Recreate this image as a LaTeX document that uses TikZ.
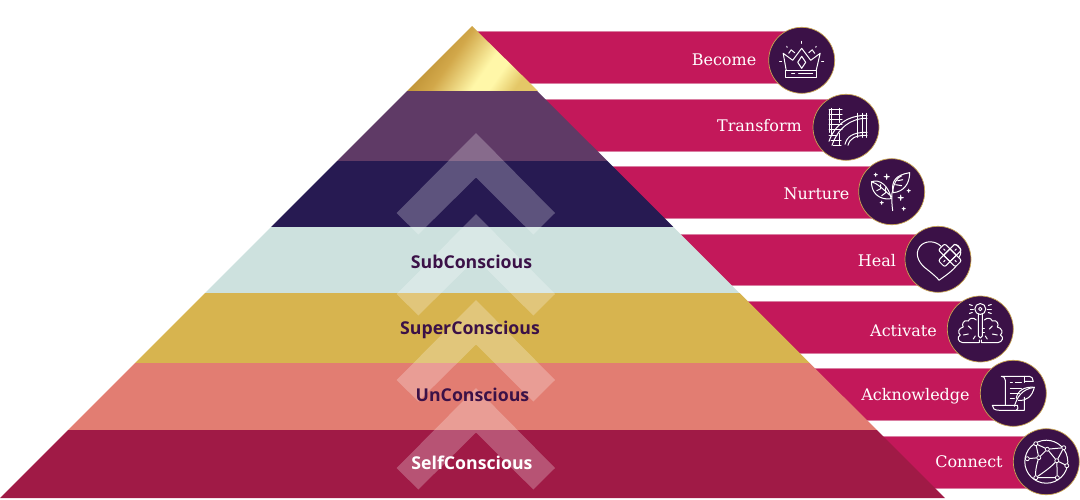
\documentclass[tikz,border=0pt]{standalone}
\usepackage{fontspec}
\setmainfont{DejaVu Serif}
\newfontfamily\boldsans[Scale=1.0]{Open Sans Bold}
\usetikzlibrary{shapes.geometric}
\definecolor{barc}{HTML}{C3185A}
\definecolor{barl}{HTML}{DA7FA2}
\definecolor{circ}{HTML}{3B1147}
\definecolor{ringc}{HTML}{C9A552}
\definecolor{lay1}{HTML}{5F3A66}
\definecolor{lay2}{HTML}{271A52}
\definecolor{lay3}{HTML}{CDE1DE}
\definecolor{lay4}{HTML}{D7B44F}
\definecolor{lay5}{HTML}{E27D72}
\definecolor{lay6}{HTML}{A01A46}
\definecolor{gold0}{HTML}{B28428}
\definecolor{gold1}{HTML}{D2A84A}
\definecolor{gold2}{HTML}{FFF7A8}
\definecolor{gold3}{HTML}{E4C767}
\pgfdeclareverticalshading{goldsh}{100bp}{color(0bp)=(gold0);color(25bp)=(gold0);color(42bp)=(gold1);color(58bp)=(gold2);color(65bp)=(gold2);color(75bp)=(gold3);color(100bp)=(gold3)}
\tikzset{
  barfill/.style={fill=barc,draw=barl,line width=.5pt},
  disc/.style={circle,fill=circ,draw=ringc,line width=.7pt,minimum size=66pt,inner sep=0pt},
  chev/.style={fill=white,fill opacity=.25},
  lab/.style={font=\fontsize{16}{18}\selectfont,text=white,anchor=base,inner sep=0pt},
  lev/.style={font=\boldsans\fontsize{17.7}{20}\selectfont,text=circ,anchor=base,inner sep=0pt},
  ic/.style={draw=white,line width=1pt,line cap=round,line join=round}
}
\begin{document}
\begin{tikzpicture}[x=1pt,y=-1pt]
\useasboundingbox (0,0) rectangle (1080,499);
% bars
\draw[barfill] (476,31.5) rectangle (800,83.5);
\draw[barfill] (530,99) rectangle (845,151);
\draw[barfill] (600,166.5) rectangle (890,218.5);
\draw[barfill] (670,234) rectangle (935,285.5);
\draw[barfill] (735,301) rectangle (980,353);
\draw[barfill] (805,368.5) rectangle (1010,420.5);
\draw[barfill] (870,436.5) rectangle (1045,488);
% pyramid
\shade[shading=goldsh,shading angle=-125] (472,26) -- (538,91) -- (407,91) -- cycle;
\fill[lay1] (407,91) -- (537.1,91) -- (607.3,161) -- (337,161) -- cycle;
\fill[lay2] (337,161) -- (607.3,161) -- (673.4,227) -- (271,227) -- cycle;
\fill[lay3] (271,227) -- (673.4,227) -- (739.5,293) -- (205,293) -- cycle;
\fill[lay4] (205,293) -- (739.5,293) -- (809.7,363) -- (135,363) -- cycle;
\fill[lay5] (135,363) -- (809.7,363) -- (876.8,430) -- (68,430) -- cycle;
\fill[lay6] (68,430) -- (876.8,430) -- (945,498) -- (0,498) -- cycle;
% chevrons
\foreach \a in {133,214,300,388}{
  \fill[chev] (476,\a) -- (555,\a+80) -- (533.3,\a+101.5) -- (476,\a+44.5) -- (418.3,\a+101.5) -- (396.7,\a+80) -- cycle;
}
% level labels
\node[lev] (sub) at (471.5,268) {SubConscious};
\node[lev] (super) at (470,334) {SuperConscious};
\node[lev] (un) at (472.5,401.5) {UnConscious};
\node[lev,text=white] (self) at (472,469) {SelfConscious};
% bar labels
\node[lab] (t1) at (724,65) {Become};
\node[lab] (t2) at (759.5,131.7) {Transform};
\node[lab] (t3) at (816.5,199) {Nurture};
\node[lab] (t4) at (877,266.7) {Heal};
\node[lab] (t5) at (903.5,336) {Activate};
\node[lab] (t6) at (915.5,400.7) {Acknowledge};
\node[lab] (t7) at (969,467.3) {Connect};
% discs
\node[disc] (c1) at (801.7,60.3) {};
\node[disc] (c2) at (846,127.3) {};
\node[disc] (c3) at (891.7,191.7) {};
\node[disc] (c4) at (938,259.3) {};
\node[disc] (c5) at (980.3,329) {};
\node[disc] (c6) at (1013.3,393.3) {};
\node[disc] (c7) at (1046.3,461.7) {};
% crown
\begin{scope}[shift={(c1.center)},ic]
\draw (-16,10) rectangle (15,17.5);
\draw (-15.5,10) -- (-18.5,-7) -- (-9,0) -- (0,-12) -- (9,0) -- (18.5,-7) -- (14.5,10);
\draw (0,-4) -- (4,2) -- (0,8) -- (-4,2) -- cycle;
\draw (-13,-7) -- (-10.5,-10.5) -- (-7,-7.5);
\draw (13,-7) -- (10.5,-10.5) -- (7,-7.5);
\draw (0,-19) -- (0,-17);
\draw (-15,-14) -- (-14.5,-13);
\draw (14.5,-14) -- (14,-13);
\draw (-22,1.5) -- (-20,1.5);
\draw (20,1.5) -- (22,1.5);
\draw (-10,13.5) -- (-7,13.5);
\draw (-3,13.5) -- (11,13.5);
\end{scope}
% rail
\begin{scope}[shift={(c2.center)},ic]
\draw (-14.5,-19) -- (-14.5,7) (-6.5,-19) -- (-6.5,-5);
\draw (-7,18) -- (-7,6);
\foreach \y in {-18,-13,-8,-3,2}{\draw (-17,\y) -- (-4,\y);}
\draw (-17,-18) -- (-17,5);
\draw (-17,8) -- (-9,8) (-15,13) -- (-5,13) (-13,18) -- (-5,18);
\draw (-17,14) .. controls (-11,-3) and (2,-12) .. (21,-12);
\draw (-14,18) .. controls (-8,1) and (4,-9) .. (21,-9);
\draw (-1,17) .. controls (1,9) and (7,5) .. (21,5);
\draw (2,18) .. controls (4,11) and (9,8) .. (21,8);
\foreach \x in {11,16,20.5}{\draw (\x,-14) -- (\x,10);}
\end{scope}
% leaves
\begin{scope}[shift={(c3.center)},ic]
\draw (1,19) .. controls (-0.5,8) and (0,0) .. (1,-1) ;
\draw (1,-1) .. controls (2,-8) and (5,-14) .. (10,-16);
\draw (0,5) .. controls (-8,-2) and (-14,-8) .. (-20,-10);
\draw (-20,-10) .. controls (-21,-1) and (-14,9) .. (-0.5,7);
\draw (-20,-10) .. controls (-12,-13) and (-3,-6) .. (-0.5,7);
\draw (1.5,1) .. controls (-1,-10) and (4,-17) .. (18,-19);
\draw (18,-19) .. controls (18,-8) and (12,0) .. (1.5,1);
\draw (-11,-3) -- (-11,-7) (-11,-3) -- (-15,-1) (-6,1) -- (-6,-4) (-6,1) -- (-10,4);
\draw (4,-7) -- (10,-6) (6,-11) -- (11,-12);
\foreach \sx/\sy/\s in {-16/-17/1.7,-5/-15/2.8,9/6/2.8,17/-1/1.7,-10/11/1.7,12/17/1.7}{
 \draw[line width=.8pt] (\sx-\s,\sy) .. controls (\sx,\sy) .. (\sx,\sy-\s) .. controls (\sx,\sy) .. (\sx+\s,\sy) .. controls (\sx,\sy) .. (\sx,\sy+\s) .. controls (\sx,\sy) .. cycle;}
\end{scope}
% heart
\begin{scope}[shift={(c4.center)},ic]
\draw (3,-13) .. controls (-3,-19) and (-13,-19) .. (-18,-13) .. controls (-25,-4) and (-17,6) .. (-11,10) .. controls (-6,14) and (0,19) .. (1,21) .. controls (5,18) and (13,13) .. (18,7);
\draw (21,-2) .. controls (25,-8) and (22,-15) .. (16,-15);
\begin{scope}[shift={(12,-4)},rotate=-45]
\draw[rounded corners=2pt] (-12,-4.5) rectangle (12,4.5);
\draw[rounded corners=2pt] (-4.5,-12) rectangle (4.5,12);
\draw (-4.5,-4.5) rectangle (4.5,4.5);
\draw (-9,0) -- (-7,0) (7,0) -- (9,0) (0,-9) -- (0,-7) (0,7) -- (0,9);
\end{scope}
\end{scope}
% brain key
\begin{scope}[shift={(c5.center)},ic]
\node[circle,draw=white,line width=1pt,minimum size=11pt,inner sep=0pt] (kh) at (0,-20) {};
\node[circle,draw=white,line width=.8pt,minimum size=3.5pt,inner sep=0pt] (kc) at (0,-20) {};
\draw (-2,-15) -- (-2,7) -- (0,9) -- (2,7) -- (2,-15);
\draw (2,-1) -- (4,-1) (2,3) -- (4,3);
\draw (-10,-20) -- (-7,-20) (7,-20) -- (11,-20);
\draw (-11,-24.5) -- (-8,-23.5) (8,-23.5) -- (11,-24.5);
\draw (-11,-15.5) -- (-8,-16.5) (8,-16.5) -- (11,-15.5);
\draw (-4,-9) .. controls (-7,-12) and (-11,-11) .. (-12,-8) .. controls (-17,-10) and (-19,-4) .. (-17,-2) .. controls (-22,-1) and (-23,4) .. (-20,6) .. controls (-24,8) and (-22,13) .. (-18,13.5) -- (-1,13.5) -- (-1,11);
\draw (4,-9) .. controls (7,-12) and (11,-11) .. (12,-8) .. controls (17,-10) and (19,-4) .. (17,-2) .. controls (22,-1) and (23,4) .. (20,6) .. controls (24,8) and (22,13) .. (18,13.5) -- (1,13.5) -- (1,11);
\draw (-12,-3) -- (-9,0) (12,-3) -- (9,0);
\draw (-17,6) -- (-12,5) (17,6) -- (12,5);
\draw (-7,10) -- (-5,7) (7,10) -- (5,7);
\end{scope}
% scroll
\begin{scope}[shift={(c6.center)},ic]
\draw (-8,12) -- (-8,-13) .. controls (-8,-16) and (-10,-17) .. (-12,-17) -- (16,-17) .. controls (18,-17) and (20,-15) .. (20,-12) -- (11,-12);
\draw (11,-17) -- (11,-11);
\draw (11,4) -- (11,17) -- (-14,17) .. controls (-19,17) and (-21,15) .. (-21,12) -- (4,12) .. controls (5,14) and (5,16) .. (3,17);
\draw (-3,-11) -- (-1,-11) (2,-11) -- (8,-11);
\draw (-3,-5) -- (8,-5);
\draw (-3,0) -- (6,0);
\draw (-3,5) -- (1,5);
\draw (1,13) .. controls (4,4) and (8,-4) .. (21,-6);
\draw (21,-6) .. controls (19,3) and (13,8) .. (5,7);
\draw (21,-6) .. controls (12,-7) and (4,-3) .. (3,5);
\end{scope}
% globe
\begin{scope}[shift={(c7.center)},ic]
\node[circle,draw=white,line width=1pt,minimum size=43pt,inner sep=0pt] (gl) at (0,0) {};
\foreach \n/\x/\y in {n1/-10.5/-18,n2/1/-12.5,n3/17.5/-14,n4/-19/-3,n5/-7.5/-4,n6/10.5/-1,n7/20.5/4,n8/-10.5/16,n9/11/16}{
  \node[circle,draw=white,fill=circ,line width=.8pt,minimum size=4pt,inner sep=0pt] (\n) at (\x,\y) {};
}
\draw (n1) -- (n2) -- (n3);
\draw (n1) -- (n5) (n2) -- (n5) -- (n4) (n2) -- (n6) -- (n7) (n3) -- (n6);
\draw (n8) -- (n9) (n9) -- (n6);
\draw (n8) .. controls (-2,10) and (4,6) .. (n6);
\draw (n5) .. controls (-10,4) and (-11,10) .. (n8);
\end{scope}
\end{tikzpicture}
\end{document}
